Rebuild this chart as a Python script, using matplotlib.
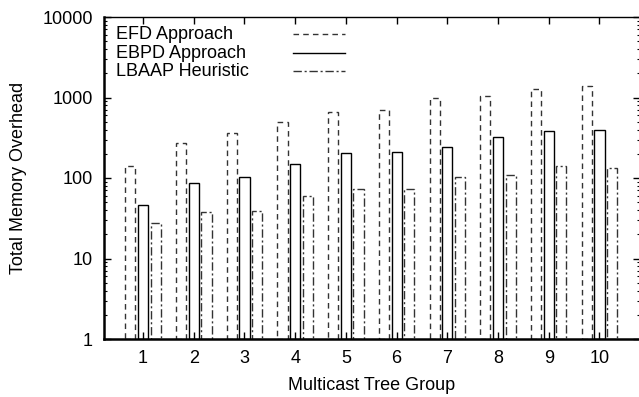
import matplotlib
matplotlib.use("Agg")
import matplotlib.pyplot as plt
from matplotlib.ticker import LogLocator, NullFormatter
import numpy as np

plt.rcParams["font.family"] = ["Liberation Sans", "DejaVu Sans"]

# Data
groups = [1, 2, 3, 4, 5, 6, 7, 8, 9, 10]
efd = [138, 275, 362, 500, 655, 693, 986, 1054, 1262, 1402]
ebpd = [45, 86, 102, 148, 206, 212, 241, 320, 380, 398]
lbaap = [26.6, 36.4, 37.5, 58.6, 71, 71, 102, 107, 138, 132]
series_labels = ["EFD Approach", "EBPD Approach", "LBAAP Heuristic"]

W, H = 639, 397
fig = plt.figure(figsize=(W / 100, H / 100), dpi=100)
left, right, bottom, top = 104, 640, 339, 17
ax = fig.add_axes([left / W, (H - bottom) / H, (right - left) / W, (bottom - top) / H])

x = np.array(groups, dtype=float)
width = 0.2
offset = 0.25
styles = [(0, (4, 3)), "-", (0, (6, 2, 1.5, 2))]
edge_cols = ["#333333", "black", "#333333"]

for i, (vals, ls, ec) in enumerate(zip([efd, ebpd, lbaap], styles, edge_cols)):
    ax.bar(x + (i - 1) * offset, vals, width=width, bottom=1, fill=False,
           edgecolor=ec, linewidth=1.0, linestyle=ls)

ax.set_yscale("log")
ax.set_ylim(1, 10000)
ax.set_xlim(0.23, 10.8)

ax.yaxis.set_minor_locator(LogLocator(base=10, subs=np.arange(2, 10)))
ax.yaxis.set_minor_formatter(NullFormatter())
ax.set_yticks([1, 10, 100, 1000, 10000])
ax.set_yticklabels(["1", "10", "100", "1000", "10000"])
ax.set_xticks(groups)
ax.set_xticklabels([str(g) for g in groups])

ax.tick_params(which="major", direction="in", length=5, width=1, top=True, right=True,
               labelsize=13)
ax.tick_params(which="minor", direction="in", length=2.5, width=0.8, top=False, right=True)
ax.tick_params(axis="y", which="major", pad=8)
ax.tick_params(axis="x", which="major", pad=8)

ax.spines["left"].set_linewidth(1.8)
ax.spines["bottom"].set_linewidth(1.8)
ax.spines["top"].set_linewidth(1.0)
ax.spines["right"].set_linewidth(1.0)

ax.set_xlabel("Multicast Tree Group", fontsize=13, labelpad=7)
ax.set_ylabel("Total Memory Overhead", fontsize=13, labelpad=11)

# gnuplot-style key: text left, line sample right
key_y = [0.947, 0.888, 0.831]
for lab, ls, ec, ky in zip(series_labels, styles, edge_cols, key_y):
    ax.text(0.0224, ky, lab, transform=ax.transAxes, fontsize=13, va="center", ha="left")
    ax.plot([0.353, 0.45], [ky, ky], transform=ax.transAxes, color=ec, lw=1.0, ls=ls,
            clip_on=False)

fig.savefig("out.png", dpi=100)
